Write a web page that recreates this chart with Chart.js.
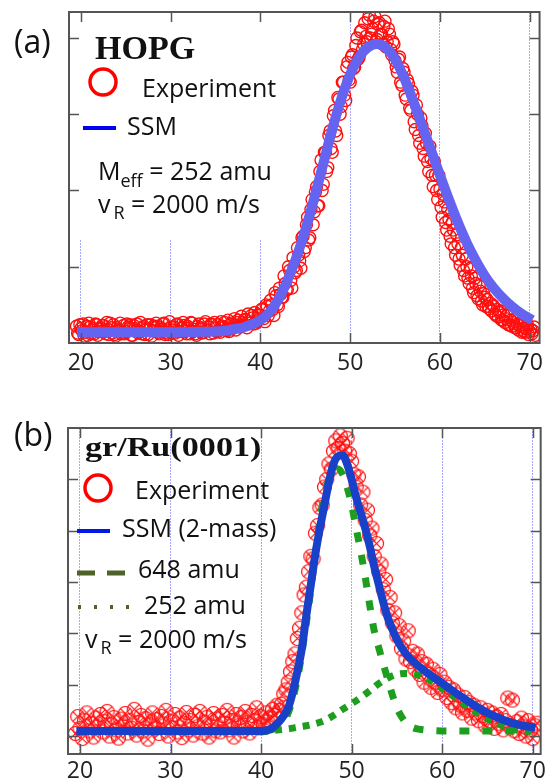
<!DOCTYPE html>
<html>
<head>
<meta charset="utf-8">
<script src="https://cdn.jsdelivr.net/npm/chart.js@4.4.0/dist/chart.umd.min.js"></script>
<style>
  html, body { margin: 0; padding: 0; background: #fff; }
  #wrap { position: relative; width: 550px; height: 780px; overflow: hidden; }
  #wrap canvas { position: absolute; left: 0; }
  #chartA { top: 0; }
  #chartB { top: 390px; }
  #notes { position: absolute; left: 0; top: 0; }
  .lbl { font-family: 'Open Sans', sans-serif; fill: #111; }
  .ttl { font-family: 'Liberation Serif', 'Times New Roman', serif; font-weight: bold; fill: #111; }
</style>
</head>
<body>
<div id="wrap">
  <canvas id="chartA" width="550" height="390"></canvas>
  <canvas id="chartB" width="550" height="390"></canvas>
  <svg id="notes" width="550" height="780">
    <text class="lbl" x="14" y="53" font-size="32">(a)</text>
    <text class="ttl" x="95" y="59" font-size="34">HOPG</text>
    <circle cx="103" cy="82" r="13" fill="none" stroke="#ff0000" stroke-width="3.5"/>
    <text class="lbl" x="142" y="97" font-size="25">Experiment</text>
    <line x1="83" y1="128" x2="116" y2="128" stroke="#0000ee" stroke-width="4"/>
    <text class="lbl" x="127" y="135" font-size="25">SSM</text>
    <text class="lbl" x="98" y="180" font-size="25">M<tspan font-size="18" dy="7">eff</tspan><tspan dy="-7"> = 252 amu</tspan></text>
    <text class="lbl" x="98" y="213" font-size="25">v<tspan font-size="18" dy="6" dx="3">R</tspan><tspan dy="-6"> = 2000 m/s</tspan></text>

    <text class="lbl" x="14" y="446" font-size="32">(b)</text>
    <text class="ttl" font-size="28" transform="translate(85 456) scale(1.22 1)">gr/Ru(0001)</text>
    <circle cx="98" cy="488" r="13" fill="none" stroke="#ff0000" stroke-width="3.5"/>
    <text class="lbl" x="135" y="499" font-size="25">Experiment</text>
    <line x1="77" y1="531" x2="110" y2="531" stroke="#0018e8" stroke-width="4"/>
    <text class="lbl" x="122" y="537" font-size="25">SSM (2-mass)</text>
    <line x1="77" y1="573" x2="125" y2="573" stroke="#4f6228" stroke-width="5" stroke-dasharray="18 12"/>
    <text class="lbl" x="138" y="578" font-size="25">648 amu</text>
    <line x1="78" y1="607" x2="132" y2="607" stroke="#4f6228" stroke-width="4" stroke-dasharray="3 13"/>
    <text class="lbl" x="144" y="614" font-size="25">252 amu</text>
    <text class="lbl" x="85" y="648" font-size="25">v<tspan font-size="18" dy="6" dx="3">R</tspan><tspan dy="-6"> = 2000 m/s</tspan></text>
  </svg>
</div>
<script>
// time of flight sampling of the measured points (second HOPG scan sits half a step later)
const tofStart = 19.5;
const tofStep = 0.25;

const xTickVals = [20, 30, 40, 50, 60, 70];
const yTicksHOPG = [1, 2, 3, 4];
const yTicksRu = [0, 1, 2, 3, 4, 5];

// (a) HOPG
const expHOPG = [
  0.22,0.11,0.19,0.25,0.14,0.1,0.21,0.17,0.12,0.24,0.15,0.2,
  0.23,0.12,0.18,0.26,0.13,0.11,0.2,0.16,0.12,0.23,0.15,0.21,
  0.24,0.1,0.19,0.25,0.15,0.12,0.22,0.18,0.11,0.24,0.16,0.2,
  0.22,0.12,0.18,0.26,0.14,0.11,0.21,0.17,0.13,0.25,0.15,0.2,
  0.23,0.12,0.19,0.27,0.15,0.12,0.22,0.18,0.13,0.25,0.16,0.21,
  0.25,0.13,0.2,
  0.24,0.14,0.22,0.27,0.16,0.15,0.26,0.23,0.17,0.3,0.21,0.27,0.31,0.2,0.28,0.36,0.25,0.26,0.37,0.33,
  0.45,0.28,0.48,0.42,0.5,0.36,0.62,0.48,0.64,0.6,0.78,0.7,0.95,0.72,1.0,0.95,1.15,0.98,1.4,1.25,
  1.65,1.38,1.88,1.72,2.05,1.8,2.4,2.08,2.5,2.3,2.78,2.5,3.05,2.72,3.2,3.1,3.42,3.18,3.68,3.42,
  3.78,3.62,4.0,3.75,4.1,3.92,4.02,4.25,4.0,4.12,4.28,3.98,4.2,4.05,4.15,3.88,4.12,3.85,3.95,3.7,
  3.55,3.75,3.38,3.55,3.2,3.4,3.05,3.25,2.8,3.0,2.62,2.85,2.45,2.62,2.25,2.42,2.05,2.2,1.88,2.02,
  1.65,1.85,1.48,1.62,1.3,1.48,1.15,1.3,1.02,1.15,0.88,1.0,0.78,0.88,0.66,0.78,0.58,0.68,0.5,0.6,
  0.57,0.45,0.42,0.48,0.36,0.34,0.42,0.3,0.27,0.36,0.24,0.22,0.31,0.2,0.17,0.27,0.16,0.14,0.24,0.15,0.12,0.21
];
const expHOPGScan2 = [
  0.13,0.24,0.16,0.09,0.22,0.26,0.12,0.19,0.25,0.1,0.18,0.23,
  0.15,0.27,0.11,0.2,0.24,0.09,0.17,0.26,0.14,0.12,0.25,0.19,
  0.1,0.23,0.16,0.13,0.27,0.2,0.11,0.24,0.18,0.09,0.22,0.26,
  0.14,0.2,0.25,0.11,0.17,0.28,0.13,0.21,0.24,0.1,0.19,0.27,
  0.15,0.22,0.12,0.26,0.18,0.1,0.25,0.2,0.14,0.28,0.17,0.12,
  0.24,0.27,0.15,
  0.16,0.28,0.2,0.17,0.3,0.24,0.19,0.32,0.27,0.22,0.35,0.24,0.3,0.38,0.26,0.33,0.4,0.28,0.36,0.44,
  0.32,0.5,0.36,0.56,0.44,0.66,0.5,0.72,0.6,0.88,0.7,1.0,0.82,1.12,0.92,1.25,1.08,1.38,1.2,1.55,
  1.35,1.75,1.55,1.98,1.8,2.25,2.0,2.5,2.25,2.72,2.55,2.98,2.78,3.22,3.0,3.42,3.25,3.62,3.45,3.75,
  3.6,3.9,3.72,4.08,3.85,4.2,3.95,4.3,4.05,4.22,3.95,4.18,4.05,3.92,4.22,3.95,4.05,3.78,3.92,3.62,
  3.72,3.42,3.6,3.25,3.45,3.08,3.3,2.9,3.12,2.72,2.95,2.55,2.75,2.38,2.58,2.2,2.38,2.0,2.2,1.78,
  1.95,1.58,1.75,1.4,1.58,1.25,1.42,1.1,1.25,0.95,1.1,0.85,0.98,0.72,0.85,0.62,0.75,0.55,0.65,0.48,
  0.48,0.52,0.5,0.38,0.44,0.4,0.3,0.37,0.32,0.24,0.3,0.27,0.2,0.25,0.23,0.14,0.2,0.19,0.11,0.18,0.16,0.1
];
const ssmHOPGTof = [19.6,25,30,33,35,36,37,38,39,40,41,42,43,44,45,46,47,48,49,50,51,52,53,
  54,55,56,57,58,59,60,61,62,63,64,65,66,67,68,69,70,70.3];
const ssmHOPG = [0.14,0.14,0.14,0.145,0.15,0.16,0.18,0.2,0.24,0.3,0.4,0.57,0.82,1.12,1.48,1.9,2.35,2.8,3.2,3.52,3.75,3.88,3.92,
  3.87,3.72,3.48,3.18,2.86,2.53,2.2,1.88,1.58,1.31,1.08,0.88,0.72,0.59,0.48,0.39,0.32,0.3];

// (b) gr/Ru(0001)
const expRu = [
  0.05,0.38,0.15,-0.05,0.3,0.45,0.1,0.25,-0.02,0.35,0.18,0.42,
  0.08,0.28,0.48,0.0,0.22,0.36,0.12,-0.04,0.33,0.2,0.44,0.06,
  0.3,0.15,0.52,0.02,0.26,0.4,0.1,0.34,-0.06,0.22,0.45,0.14,
  0.32,0.05,0.38,0.2,0.5,0.0,0.28,0.16,0.42,0.08,0.35,-0.03,
  0.24,0.46,0.12,0.3,0.02,0.4,0.18,0.48,0.06,0.27,0.36,-0.02,
  0.2,0.44,0.1,
  0.33,0.08,0.4,0.24,0.5,0.12,0.3,-0.02,0.42,0.2,0.36,0.1,0.48,0.26,0.06,0.4,0.3,0.55,0.16,0.38,
  0.22,0.45,0.28,0.35,0.52,0.4,0.6,0.5,0.62,0.82,0.9,1.05,1.25,1.45,1.6,1.9,2.1,2.4,2.75,2.9,
  3.2,3.5,3.45,3.95,4.1,4.45,4.5,4.85,5.0,5.3,5.2,5.55,5.75,5.6,5.85,5.7,5.55,5.8,5.5,5.35,
  5.1,4.85,5.05,4.5,4.75,4.2,4.4,3.9,4.05,3.5,3.75,3.2,3.35,2.85,3.05,2.45,2.7,2.2,2.4,1.95,
  2.15,1.7,1.85,1.5,2.05,1.45,1.65,1.3,1.6,1.2,1.45,1.05,1.4,1.2,0.95,1.3,1.05,0.85,1.2,0.9,
  1.05,0.75,0.95,0.65,0.9,0.55,0.8,0.6,0.45,0.75,0.5,0.65,0.35,0.6,0.45,0.3,0.55,0.4,0.2,0.5,
  0.3,0.45,0.15,0.38,0.25,0.42,0.12,0.3,0.74,0.2,0.7,0.1,0.28,0.05,0.35,0.18,0.0,0.3,0.12,-0.05,0.2,0.25
];
const ssmRuTof = [19.6,30,40,41,42,43,43.5,44,44.5,45,45.5,46,46.5,47,47.5,48,48.5,49,49.5,50,50.5,51,51.5,52,52.5,
  53,53.5,54,54.5,55,56,57,58,59,60,61,62,63,64,65,66,67,68,69,70,70.3];
const ssmRu = [0.1,0.1,0.1,0.13,0.28,0.55,0.85,1.25,1.7,2.35,2.95,3.55,4.05,4.5,4.95,5.3,5.45,5.47,5.3,5.0,4.65,4.35,4.05,3.7,3.3,
  2.95,2.6,2.3,2.08,1.88,1.6,1.42,1.28,1.15,1.03,0.9,0.78,0.66,0.55,0.45,0.37,0.3,0.24,0.2,0.17,0.16];
const m648Tof = [41,42,43,44,45,46,46.5,47,47.5,48,48.5,49,49.5,50,50.5,51,51.5,52,52.5,53,53.5,54,54.5,55,55.5,56,56.5,57,58,60,62,64,66,68];
const m648 = [0.11,0.2,0.45,1.1,2.2,3.55,4.2,4.7,5.0,5.15,5.2,5.1,4.85,4.5,4.05,3.6,3.1,2.55,2.05,1.72,1.4,1.1,0.8,0.55,0.38,0.26,0.19,0.15,0.12,0.1,0.1,0.1,0.1,0.1];
const m252Tof = [40,41,42,43,44,45,46,47,48,49,50,51,52,53,54,55,56,57,58,59,60,61,62,63,64,65,66,67,68,69,70];
const m252 = [0.08,0.1,0.12,0.14,0.17,0.2,0.24,0.3,0.4,0.52,0.63,0.75,0.88,1.02,1.13,1.2,1.22,1.2,1.15,1.05,0.93,0.8,0.68,0.55,0.44,0.34,0.25,0.18,0.13,0.1,0.09];

function toPoints(xs, ys) {
  return ys.map((y, i) => ({ x: xs[i], y: y }));
}
function expPoints(ys, shift) {
  return ys.map((y, i) => ({ x: tofStart + shift + i * tofStep, y: y }));
}

// circle with an x inside, used for the gr/Ru data
function crossCircle(r, color) {
  const s = Math.ceil(r * 2 + 3);
  const c = document.createElement('canvas');
  c.width = s; c.height = s;
  const g = c.getContext('2d');
  g.strokeStyle = color;
  g.lineWidth = 1.2;
  g.beginPath();
  g.arc(s / 2, s / 2, r, 0, Math.PI * 2);
  g.stroke();
  const d = r * 0.7;
  g.beginPath();
  g.moveTo(s / 2 - d, s / 2 - d); g.lineTo(s / 2 + d, s / 2 + d);
  g.moveTo(s / 2 + d, s / 2 - d); g.lineTo(s / 2 - d, s / 2 + d);
  g.stroke();
  return c;
}

const framePlugin = {
  id: 'frame',
  beforeDatasetsDraw(chart, args, opts) {
    if (!opts.blank) return;
    const ctx = chart.ctx, a = chart.chartArea, b = opts.blank;
    ctx.save();
    ctx.fillStyle = '#fff';
    ctx.fillRect(a.left + 1, a.top + 1, b.right - a.left - 1, b.bottom - a.top - 1);
    ctx.restore();
  },
  afterDraw(chart, args, opts) {
    const ctx = chart.ctx, a = chart.chartArea;
    const x = chart.scales.x, y = chart.scales.y;
    ctx.save();
    ctx.strokeStyle = '#555';
    ctx.lineWidth = 1.5;
    ctx.beginPath();
    xTickVals.forEach(v => {
      const px = Math.round(x.getPixelForValue(v)) + 0.5;
      ctx.moveTo(px, a.bottom); ctx.lineTo(px, a.bottom - 10);
      ctx.moveTo(px, a.top); ctx.lineTo(px, a.top + 10);
    });
    opts.yTicks.forEach(v => {
      const py = Math.round(y.getPixelForValue(v)) + 0.5;
      ctx.moveTo(a.left, py); ctx.lineTo(a.left + 10, py);
      ctx.moveTo(a.right, py); ctx.lineTo(a.right - 10, py);
    });
    ctx.stroke();
    ctx.lineWidth = 2;
    ctx.strokeRect(a.left, a.top, a.right - a.left, a.bottom - a.top);
    ctx.restore();
  }
};

function xAxis(min, max, height, pad) {
  return {
    type: 'linear', position: 'bottom', min: min, max: max,
    afterBuildTicks: s => { s.ticks = xTickVals.map(v => ({ value: v })); },
    afterFit: s => { s.height = height; },
    grid: { color: 'rgba(110,110,255,0.6)', lineWidth: 1, drawTicks: false },
    border: { display: false, dash: [2, 1] },
    ticks: { color: '#222', font: { family: 'Open Sans', size: 23 }, padding: pad, maxRotation: 0, autoSkip: false }
  };
}
function yAxis(min, max, width) {
  return {
    min: min, max: max,
    afterFit: s => { s.width = width; },
    ticks: { display: false },
    grid: { display: false },
    border: { display: false }
  };
}

const redCircle = {
  showLine: false, pointStyle: 'circle', pointRadius: 6, borderColor: '#ff1010',
  borderWidth: 1.4, backgroundColor: 'rgba(0,0,0,0)', order: 1
};

new Chart(document.getElementById('chartA'), {
  type: 'scatter',
  data: {
    datasets: [
      {
        label: 'SSM', data: toPoints(ssmHOPGTof, ssmHOPG), showLine: true,
        borderColor: '#6464f0', borderWidth: 10, pointRadius: 0,
        cubicInterpolationMode: 'monotone', borderJoinStyle: 'round', order: 0
      },
      Object.assign({ label: 'Experiment', data: expPoints(expHOPG, 0) }, redCircle),
      Object.assign({ label: 'Experiment (scan 2)', data: expPoints(expHOPGScan2, tofStep / 2) }, redCircle)
    ]
  },
  options: {
    responsive: false, animation: false, devicePixelRatio: 1,
    layout: { padding: { top: 12, right: 7, left: 0, bottom: 0 } },
    plugins: {
      legend: { display: false }, tooltip: { enabled: false },
      frame: { yTicks: yTicksHOPG, blank: { right: 300, bottom: 239 } }
    },
    scales: { x: xAxis(18.67, 71.1, 47, 7), y: yAxis(0, 4.34, 69) }
  },
  plugins: [framePlugin]
});

new Chart(document.getElementById('chartB'), {
  type: 'scatter',
  data: {
    datasets: [
      {
        label: 'SSM (2-mass)', data: toPoints(ssmRuTof, ssmRu), showLine: true,
        borderColor: '#1840c8', borderWidth: 8, pointRadius: 0,
        cubicInterpolationMode: 'monotone', borderJoinStyle: 'round', order: 0
      },
      {
        label: '648 amu', data: toPoints(m648Tof, m648), showLine: true,
        borderColor: '#1e9e1e', borderWidth: 7, borderDash: [10, 13], pointRadius: 0,
        cubicInterpolationMode: 'monotone', order: 1
      },
      {
        label: '252 amu', data: toPoints(m252Tof, m252), showLine: true,
        borderColor: '#1e9e1e', borderWidth: 7, borderDash: [7, 7], pointRadius: 0,
        cubicInterpolationMode: 'monotone', order: 2
      },
      {
        label: 'Experiment', data: expPoints(expRu, 0), showLine: false,
        pointStyle: crossCircle(7, '#ff1010'), pointRadius: 7, order: 3
      }
    ]
  },
  options: {
    responsive: false, animation: false, devicePixelRatio: 1,
    layout: { padding: { top: 38, right: 7, left: 0, bottom: 0 } },
    plugins: {
      legend: { display: false }, tooltip: { enabled: false },
      frame: { yTicks: yTicksRu }
    },
    scales: { x: xAxis(18.68, 70.88, 26, 4), y: yAxis(-0.35, 6, 68) }
  },
  plugins: [framePlugin]
});
</script>
</body>
</html>
